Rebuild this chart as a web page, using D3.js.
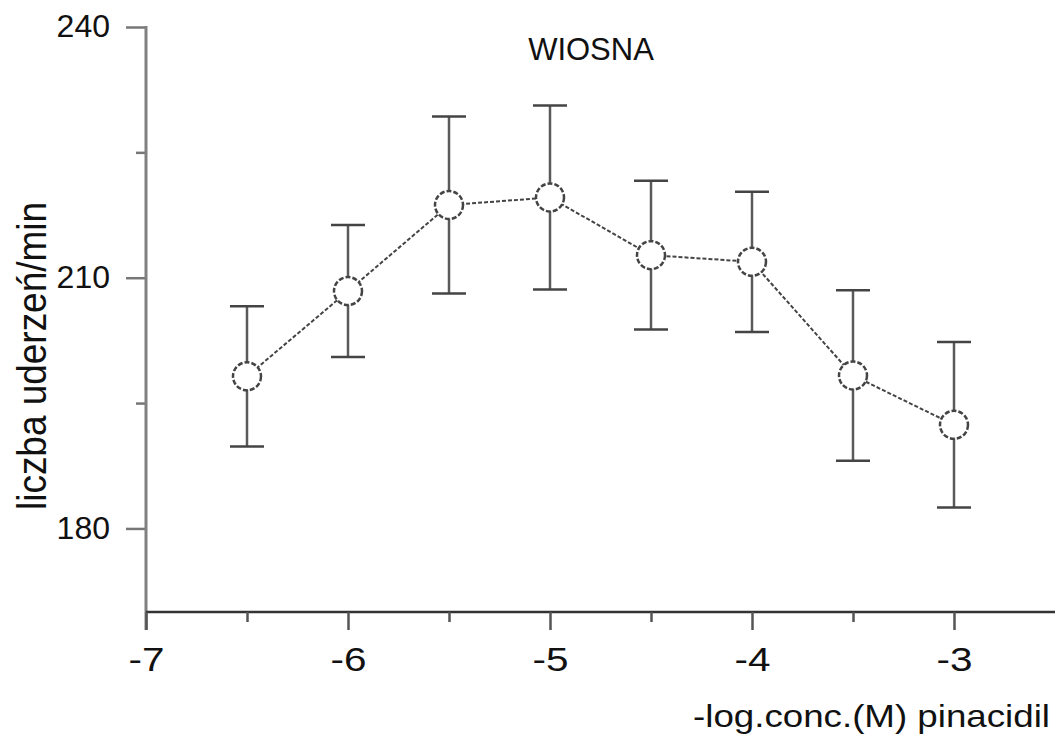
<!DOCTYPE html>
<html>
<head>
<meta charset="utf-8">
<script src="https://cdn.jsdelivr.net/npm/d3@7"></script>
<style>
  body { margin: 0; background: #fff; }
  svg text { font-family: "Liberation Sans", Arial, sans-serif; fill: #111; }
</style>
</head>
<body>
<script>
// data
const concentrations = [-6.5, -6, -5.5, -5, -4.5, -4, -3.5, -3];
const beatRate = [198.2, 208.4, 218.7, 219.6, 212.7, 211.9, 198.3, 192.4];
const beatError = [8.4, 7.9, 10.6, 11.0, 8.9, 8.4, 10.2, 9.9];
const xMajorTicks = [-7, -6, -5, -4, -3];
const xMinorTicks = [-6.5, -5.5, -4.5, -3.5];
const yMajorTicks = [180, 210, 240];
const yMinorTicks = [195, 225];

const width = 1057, height = 734;
const margin = { top: 27, right: 2, bottom: 122, left: 146 };

const x = d3.scaleLinear().domain([-7, -2.5]).range([margin.left, width - margin.right]);
const y = d3.scaleLinear().domain([170, 240]).range([height - margin.bottom, margin.top]);

const svg = d3.select('body').append('svg')
  .attr('width', width)
  .attr('height', height);

// y axis
const yAxis = svg.append('g')
  .attr('transform', `translate(${margin.left}, 0)`)
  .call(d3.axisLeft(y).tickValues(yMajorTicks).tickSize(20).tickPadding(16));
yAxis.select('.domain').remove();
yAxis.selectAll('line').attr('stroke', '#777').attr('stroke-width', 2.5);
yAxis.selectAll('text').style('font-size', '32px').attr('dy', '0.3em');

svg.append('g')
  .attr('transform', `translate(${margin.left}, 0)`)
  .call(d3.axisLeft(y).tickValues(yMinorTicks).tickSize(10).tickFormat(''))
  .call((g) => g.select('.domain').remove())
  .selectAll('line').attr('stroke', '#777').attr('stroke-width', 2.5);

svg.append('line')
  .attr('x1', margin.left).attr('x2', margin.left)
  .attr('y1', y(240) - 1).attr('y2', y(170) + 18)
  .attr('stroke', '#808080').attr('stroke-width', 3);

// x axis
const xAxis = svg.append('g')
  .attr('transform', `translate(0, ${y(170)})`)
  .call(d3.axisBottom(x).tickValues(xMajorTicks).tickSize(18).tickPadding(18)
    .tickFormat((d) => String(d)));
xAxis.select('.domain').attr('stroke', '#333').attr('stroke-width', 2.5)
  .attr('d', `M${x(-7)},0H${x(-2.5)}`);
xAxis.selectAll('.tick line').attr('stroke', '#555').attr('stroke-width', 2.5);
xAxis.selectAll('text')
  .style('font-size', '33px')
  .attr('textLength', 36)
  .attr('lengthAdjust', 'spacingAndGlyphs');

svg.append('g')
  .attr('transform', `translate(0, ${y(170)})`)
  .call(d3.axisBottom(x).tickValues(xMinorTicks).tickSize(10).tickFormat(''))
  .call((g) => g.select('.domain').remove())
  .selectAll('line').attr('stroke', '#555').attr('stroke-width', 2.5);

// labels
svg.append('text')
  .attr('x', 591).attr('y', 60)
  .attr('text-anchor', 'middle')
  .style('font-size', '31px')
  .text('WIOSNA');

svg.append('text')
  .attr('transform', 'translate(46, 356) rotate(-90)')
  .attr('text-anchor', 'middle')
  .style('font-size', '40px')
  .attr('textLength', 308)
  .attr('lengthAdjust', 'spacingAndGlyphs')
  .text('liczba uderzeń/min');

svg.append('text')
  .attr('x', 1050).attr('y', 727)
  .attr('text-anchor', 'end')
  .style('font-size', '32px')
  .attr('textLength', 357)
  .attr('lengthAdjust', 'spacingAndGlyphs')
  .text('-log.conc.(M) pinacidil');

const points = concentrations.map((c, i) => ({ c, v: beatRate[i], e: beatError[i] }));

// connecting line
svg.append('path')
  .datum(points)
  .attr('fill', 'none')
  .attr('stroke', '#444')
  .attr('stroke-width', 2)
  .attr('stroke-dasharray', '4,2')
  .attr('d', d3.line().x((d) => x(d.c)).y((d) => y(d.v)));

// error bars
const bars = svg.append('g').selectAll('g')
  .data(points)
  .enter()
  .append('g');

bars.append('line')
  .attr('x1', (d) => x(d.c)).attr('x2', (d) => x(d.c))
  .attr('y1', (d) => y(d.v + d.e)).attr('y2', (d) => y(d.v - d.e))
  .attr('stroke', '#5a5a5a').attr('stroke-width', 2.5);

bars.selectAll('.cap')
  .data((d) => [d.v + d.e, d.v - d.e].map((v) => ({ c: d.c, v })))
  .enter()
  .append('line')
  .attr('class', 'cap')
  .attr('x1', (d) => x(d.c) - 17).attr('x2', (d) => x(d.c) + 17)
  .attr('y1', (d) => y(d.v)).attr('y2', (d) => y(d.v))
  .attr('stroke', '#444').attr('stroke-width', 2.5);

// markers
svg.append('g').selectAll('circle')
  .data(points)
  .enter()
  .append('circle')
  .attr('cx', (d) => x(d.c))
  .attr('cy', (d) => y(d.v))
  .attr('r', 14)
  .attr('fill', '#fff')
  .attr('stroke', '#444')
  .attr('stroke-width', 2.5)
  .attr('stroke-dasharray', '5,2');
</script>
</body>
</html>
